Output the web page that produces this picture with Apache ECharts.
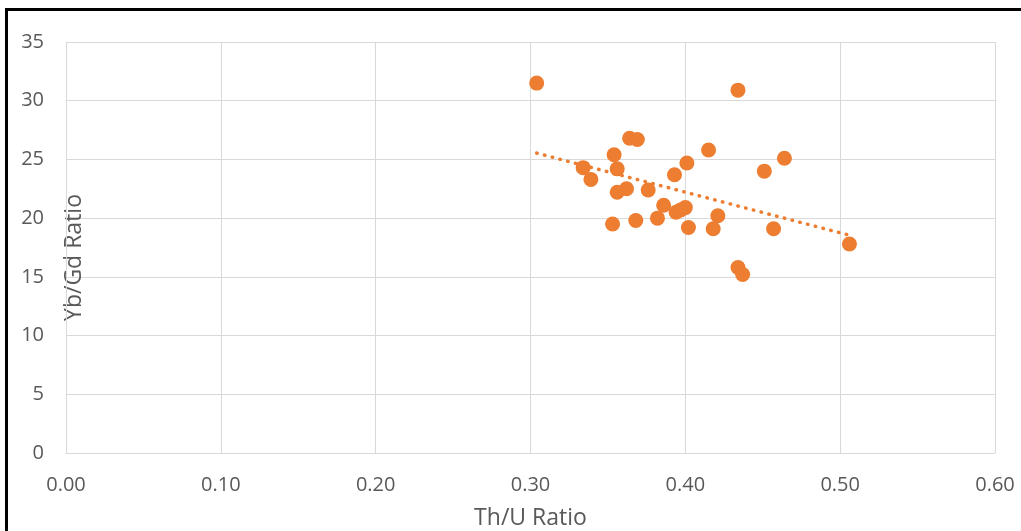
<!DOCTYPE html>
<html>
<head>
<meta charset="utf-8">
<script src="https://cdn.jsdelivr.net/npm/echarts@6/dist/echarts.min.js"></script>
<style>
  html, body { margin: 0; padding: 0; background: #fff; }
  #chart { position: absolute; left: 0; top: 0; width: 1021px; height: 531px; }
  #frameL { position: absolute; left: 5px; top: 8px; width: 3px; height: 523px; background: #000; }
  #frameT { position: absolute; left: 5px; top: 8px; width: 1016px; height: 3px; background: #000; }
</style>
</head>
<body>
<div id="chart"></div>
<div id="frameL"></div>
<div id="frameT"></div>
<script>
const thU = [0.304, 0.434, 0.364, 0.369, 0.354, 0.415, 0.464, 0.401, 0.334, 0.356,
             0.451, 0.393, 0.339, 0.362, 0.356, 0.376, 0.386, 0.400, 0.397, 0.394,
             0.421, 0.382, 0.368, 0.353, 0.402, 0.418, 0.457, 0.506, 0.434, 0.437];
const ybGd = [31.5, 30.9, 26.8, 26.7, 25.4, 25.8, 25.1, 24.7, 24.3, 24.2,
              24.0, 23.7, 23.3, 22.5, 22.2, 22.4, 21.1, 20.9, 20.7, 20.5,
              20.2, 20.0, 19.8, 19.5, 19.2, 19.1, 19.1, 17.8, 15.8, 15.2];
const xTicks = { min: 0, max: 0.6, interval: 0.1 };
const yTicks = { min: 0, max: 35, interval: 5 };

const points = thU.map((x, i) => [x, ybGd[i]]);

// linear least-squares trendline
const n = thU.length;
const mx = thU.reduce((a, b) => a + b, 0) / n;
const my = ybGd.reduce((a, b) => a + b, 0) / n;
let sxy = 0, sxx = 0;
for (let i = 0; i < n; i++) { sxy += (thU[i] - mx) * (ybGd[i] - my); sxx += (thU[i] - mx) ** 2; }
const slope = sxy / sxx, icpt = my - slope * mx;
const xMin = Math.min(...thU), xMax = Math.max(...thU);
const trend = [[xMin, icpt + slope * xMin], [xMax, icpt + slope * xMax]];

const orange = '#ED7D31';
const txt = '#595959';
const font = 'Open Sans';

const chart = echarts.init(document.getElementById('chart'));
chart.setOption({
  animation: false,
  grid: { left: 66, right: 26, top: 42, bottom: 78, containLabel: false, outerBoundsMode: 'none' },
  xAxis: {
    type: 'value', min: xTicks.min, max: xTicks.max, interval: xTicks.interval,
    name: 'Th/U Ratio', nameLocation: 'middle', nameGap: 54, nameMoveOverlap: false,
    nameTextStyle: { color: txt, fontSize: 23, fontFamily: font },
    axisLine: { show: true, lineStyle: { color: '#d9d9d9', width: 1 } },
    axisTick: { show: false },
    axisLabel: { color: txt, fontSize: 20, fontFamily: font, margin: 22,
                 formatter: v => v.toFixed(2) },
    splitLine: { show: true, lineStyle: { color: '#d9d9d9', width: 1 } }
  },
  yAxis: {
    type: 'value', min: yTicks.min, max: yTicks.max, interval: yTicks.interval,
    name: 'Yb/Gd Ratio', nameLocation: 'middle', nameGap: -20, nameMoveOverlap: false,
    nameTextStyle: { color: txt, fontSize: 23, fontFamily: font, padding: [0, 20, 0, 0] },
    axisLine: { show: true, lineStyle: { color: '#d9d9d9', width: 1 } },
    axisTick: { show: false },
    axisLabel: { color: txt, fontSize: 20, fontFamily: font, margin: 22 },
    splitLine: { show: true, lineStyle: { color: '#d9d9d9', width: 1 } }
  },
  series: [
    {
      type: 'scatter', data: points, symbolSize: 15,
      itemStyle: { color: orange, opacity: 1 }, z: 3
    },
    {
      type: 'line', data: trend, symbol: 'none', z: 2,
      lineStyle: { color: orange, width: 3.5, type: [0.5, 7.5], cap: 'round' }
    }
  ]
});
</script>
</body>
</html>
